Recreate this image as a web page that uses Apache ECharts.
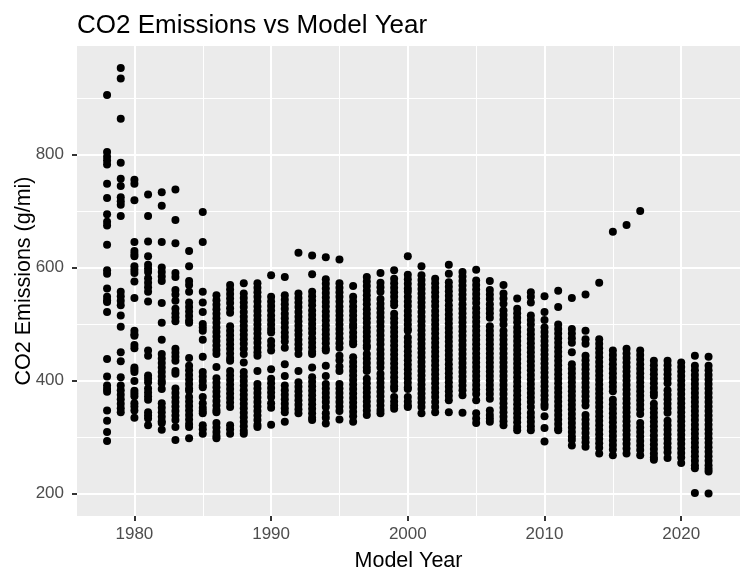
<!DOCTYPE html>
<html>
<head>
<meta charset="utf-8">
<script src="https://cdn.jsdelivr.net/npm/echarts@6.0.0/dist/echarts.min.js"></script>
<style>
html, body { margin: 0; padding: 0; background: #ffffff; }
#chart { width: 751px; height: 582px; }
</style>
</head>
<body>
<div id="chart"></div>
<script>
const chartTitle = 'CO2 Emissions vs Model Year';
const xTitle = 'Model Year';
const yTitle = 'CO2 Emissions (g/mi)';
const xTicks = [1980, 1990, 2000, 2010, 2020];
const xMinorTicks = [1985, 1995, 2005, 2015];
const yTicks = [200, 400, 600, 800];
const yMinorTicks = [300, 500, 700, 900];

const modelYears = [1978,1979,1980,1981,1982,1983,1984,1985,1986,1987,1988,1989,1990,1991,1992,1993,1994,1995,1996,1997,1998,1999,2000,2001,2002,2003,2004,2005,2006,2007,2008,2009,2010,2011,2012,2013,2014,2015,2016,2017,2018,2019,2020,2021,2022];

const co2_1978 = [905, 804, 796, 789, 782, 748, 723, 694, 681, 674, 640, 595, 589, 563, 548, 542, 539, 521, 438, 407, 391, 385, 380, 347, 329, 309, 293];
const co2_1979 = [953, 934, 863, 785, 757, 744, 724, 717, 711, 691, 557, 549, 541, 533, 515, 495, 450, 434, 406, 391, 383, 375, 367, 359, 351, 344];
const co2_1980 = [755, 748, 719, 645, 629, 624, 620, 602, 596, 590, 575, 546, 488, 482, 479, 463, 457, 423, 419, 415, 399, 382, 377, 372, 360, 354, 347, 334];
const co2_1981 = [729, 691, 646, 620, 605, 598, 592, 581, 573, 565, 557, 540, 453, 444, 409, 403, 397, 386, 379, 372, 366, 344, 338, 333, 321];
const co2_1982 = [733, 709, 645, 600, 592, 584, 576, 537, 502, 472, 447, 439, 431, 423, 415, 407, 399, 395, 385, 360, 352, 344, 336, 328, 325, 313];
const co2_1983 = [738, 684, 643, 590, 583, 560, 552, 541, 527, 519, 512, 505, 456, 449, 442, 435, 417, 412, 386, 378, 370, 362, 354, 346, 338, 330, 318, 295];
const co2_1984 = [629, 602, 576, 569, 557, 538, 530, 522, 514, 506, 502, 440, 426, 418, 410, 402, 394, 386, 382, 371, 363, 355, 347, 339, 331, 323, 318, 298];
const co2_1985 = [698, 645, 557, 538, 521, 500, 494, 488, 472, 442, 415, 407, 399, 391, 388, 371, 360, 352, 346, 342, 321, 314, 306];
const co2_1986 = [551, 542, 534, 526, 518, 510, 502, 494, 486, 478, 470, 462, 454, 447, 424, 404, 396, 388, 380, 372, 364, 356, 348, 344, 325, 317, 309, 302, 298];
const co2_1987 = [569, 561, 553, 545, 537, 528, 520, 496, 488, 480, 472, 464, 456, 448, 440, 435, 417, 409, 401, 393, 385, 377, 369, 361, 353, 321, 314, 306];
const co2_1988 = [572, 554, 546, 538, 530, 521, 513, 505, 497, 489, 481, 473, 465, 456, 447, 432, 415, 407, 399, 391, 383, 375, 367, 359, 351, 343, 335, 327, 319, 311, 306];
const co2_1989 = [572, 564, 556, 548, 540, 531, 523, 515, 507, 499, 491, 483, 475, 467, 458, 450, 444, 417, 394, 386, 378, 370, 362, 354, 346, 338, 330, 322, 318];
const co2_1990 = [586, 548, 540, 532, 524, 515, 507, 499, 491, 485, 470, 462, 453, 420, 403, 395, 387, 379, 371, 360, 352, 322];
const co2_1991 = [583, 551, 543, 535, 527, 518, 510, 502, 494, 485, 477, 469, 458, 429, 408, 391, 383, 375, 367, 359, 351, 344, 327];
const co2_1992 = [626, 554, 546, 538, 530, 521, 513, 505, 497, 489, 481, 472, 464, 456, 447, 417, 397, 389, 381, 373, 365, 357, 349, 342];
const co2_1993 = [621, 588, 557, 549, 541, 533, 524, 516, 508, 500, 492, 484, 475, 467, 459, 451, 447, 423, 406, 398, 390, 382, 374, 366, 358, 350, 342, 334, 330];
const co2_1994 = [618, 579, 571, 563, 555, 547, 539, 531, 522, 514, 506, 498, 490, 482, 474, 466, 457, 453, 426, 408, 394, 386, 378, 370, 362, 353, 342, 334, 324];
const co2_1995 = [614, 572, 564, 556, 548, 540, 531, 523, 515, 507, 499, 491, 483, 475, 466, 458, 444, 436, 425, 417, 394, 386, 378, 370, 362, 354, 346, 331];
const co2_1996 = [567, 548, 540, 531, 523, 515, 507, 499, 494, 485, 477, 469, 464, 441, 433, 425, 417, 409, 401, 393, 385, 377, 369, 361, 353, 345, 337, 327];
const co2_1997 = [583, 575, 567, 559, 551, 543, 535, 526, 518, 510, 502, 494, 486, 478, 470, 462, 458, 447, 439, 431, 423, 417, 403, 395, 387, 379, 371, 363, 355, 347, 339];
const co2_1998 = [590, 573, 565, 557, 544, 536, 528, 520, 512, 504, 496, 488, 480, 472, 464, 455, 447, 439, 431, 423, 412, 404, 396, 388, 380, 372, 364, 356, 348, 342];
const co2_1999 = [595, 580, 572, 564, 556, 548, 540, 533, 518, 510, 502, 494, 486, 478, 470, 462, 454, 446, 438, 430, 422, 414, 406, 398, 390, 385, 371, 363, 356, 350];
const co2_2000 = [620, 587, 579, 571, 563, 557, 548, 540, 532, 523, 515, 507, 499, 491, 488, 476, 468, 460, 452, 444, 436, 428, 420, 412, 404, 396, 388, 385, 371, 363, 356, 353];
const co2_2001 = [602, 586, 578, 570, 562, 554, 546, 538, 530, 521, 513, 505, 497, 489, 481, 473, 465, 457, 449, 441, 433, 425, 417, 409, 401, 393, 385, 377, 369, 361, 353, 342];
const co2_2002 = [580, 572, 564, 556, 548, 540, 532, 523, 515, 507, 499, 491, 483, 475, 467, 459, 451, 443, 435, 427, 419, 411, 403, 395, 387, 379, 371, 362, 353, 344];
const co2_2003 = [605, 589, 574, 566, 558, 550, 542, 533, 525, 517, 509, 501, 493, 485, 477, 469, 461, 453, 445, 437, 429, 421, 413, 405, 397, 389, 381, 373, 365, 344];
const co2_2004 = [592, 584, 576, 568, 560, 552, 544, 535, 527, 519, 511, 503, 495, 487, 479, 471, 463, 455, 447, 439, 431, 423, 415, 407, 399, 391, 383, 374, 343];
const co2_2005 = [596, 577, 569, 561, 553, 545, 537, 528, 520, 512, 504, 496, 488, 480, 472, 464, 456, 448, 440, 432, 424, 416, 408, 400, 392, 384, 376, 365, 342, 333, 325];
const co2_2006 = [576, 560, 552, 544, 535, 527, 519, 511, 496, 488, 480, 472, 464, 456, 448, 440, 432, 424, 416, 408, 400, 392, 384, 376, 368, 347, 339, 333, 327];
const co2_2007 = [569, 554, 545, 536, 524, 516, 508, 499, 488, 480, 472, 464, 456, 448, 440, 432, 424, 416, 408, 400, 392, 384, 376, 368, 360, 352, 344, 336, 328, 321];
const co2_2008 = [545, 527, 519, 511, 503, 494, 486, 478, 470, 462, 454, 446, 438, 430, 422, 414, 406, 398, 390, 382, 374, 366, 358, 350, 342, 334, 326, 318, 312];
const co2_2009 = [556, 548, 538, 515, 507, 499, 490, 482, 474, 466, 458, 450, 442, 434, 426, 418, 410, 402, 394, 386, 378, 370, 362, 353, 343, 335, 327, 319, 312];
const co2_2010 = [549, 521, 507, 494, 486, 478, 470, 462, 454, 446, 438, 430, 422, 414, 406, 398, 390, 382, 374, 366, 358, 353, 337, 316, 292];
const co2_2011 = [559, 530, 499, 491, 483, 475, 467, 459, 451, 443, 435, 427, 419, 411, 403, 395, 387, 379, 371, 363, 355, 347, 339, 331, 323, 315, 312];
const co2_2012 = [546, 491, 483, 475, 467, 450, 429, 421, 413, 405, 397, 389, 381, 373, 365, 357, 349, 341, 333, 325, 317, 309, 301, 295, 285];
const co2_2013 = [552, 488, 473, 465, 444, 436, 428, 420, 412, 404, 396, 388, 380, 372, 364, 356, 339, 331, 323, 315, 307, 299, 291, 283];
const co2_2014 = [573, 473, 465, 457, 449, 441, 433, 425, 417, 409, 401, 393, 385, 377, 369, 361, 353, 345, 337, 329, 321, 313, 305, 297, 289, 281, 271];
const co2_2015 = [663, 453, 445, 437, 429, 421, 413, 405, 397, 389, 381, 366, 358, 350, 342, 334, 326, 318, 310, 302, 294, 286, 278, 268];
const co2_2016 = [675, 456, 448, 440, 432, 424, 416, 408, 400, 392, 384, 376, 368, 360, 352, 344, 336, 328, 320, 312, 304, 296, 288, 280, 271];
const co2_2017 = [700, 453, 445, 437, 429, 421, 413, 405, 397, 389, 381, 373, 365, 357, 349, 341, 325, 317, 309, 301, 293, 285, 277, 268];
const co2_2018 = [435, 427, 419, 411, 403, 395, 387, 379, 373, 359, 351, 343, 335, 327, 319, 311, 303, 295, 287, 279, 271, 264, 260];
const co2_2019 = [435, 427, 419, 411, 403, 395, 383, 375, 367, 359, 351, 343, 329, 321, 313, 305, 297, 289, 281, 273, 263];
const co2_2020 = [432, 424, 416, 408, 400, 392, 384, 376, 368, 360, 352, 344, 336, 328, 320, 312, 304, 296, 288, 280, 272, 264, 254];
const co2_2021 = [444, 426, 418, 410, 402, 394, 386, 378, 370, 362, 354, 346, 338, 330, 322, 314, 306, 298, 290, 282, 274, 266, 258, 250, 245, 201];
const co2_2022 = [442, 426, 418, 410, 402, 394, 386, 378, 370, 362, 354, 346, 338, 330, 322, 314, 306, 298, 290, 282, 274, 266, 258, 250, 244, 239, 200];

const yearColumns = [co2_1978, co2_1979, co2_1980, co2_1981, co2_1982, co2_1983, co2_1984, co2_1985, co2_1986, co2_1987, co2_1988, co2_1989, co2_1990, co2_1991, co2_1992, co2_1993, co2_1994, co2_1995, co2_1996, co2_1997, co2_1998, co2_1999, co2_2000, co2_2001, co2_2002, co2_2003, co2_2004, co2_2005, co2_2006, co2_2007, co2_2008, co2_2009, co2_2010, co2_2011, co2_2012, co2_2013, co2_2014, co2_2015, co2_2016, co2_2017, co2_2018, co2_2019, co2_2020, co2_2021, co2_2022];

const points = [];
modelYears.forEach(function (yr, i) {
  yearColumns[i].forEach(function (v) { points.push([yr, v]); });
});

const FONT = '"Liberation Sans", Arial, "DejaVu Sans", sans-serif';

const gridLines = [];
xTicks.forEach(function (v) { gridLines.push({ xAxis: v, lineStyle: { width: 2 } }); });
xMinorTicks.forEach(function (v) { gridLines.push({ xAxis: v, lineStyle: { width: 1 } }); });
yTicks.forEach(function (v) { gridLines.push({ yAxis: v, lineStyle: { width: 2 } }); });
yMinorTicks.forEach(function (v) { gridLines.push({ yAxis: v, lineStyle: { width: 1 } }); });

const chart = echarts.init(document.getElementById('chart'), null, { renderer: 'canvas' });
chart.setOption({
  animation: false,
  backgroundColor: '#ffffff',
  title: {
    text: chartTitle,
    left: 72,
    top: 8,
    textStyle: { fontFamily: FONT, fontSize: 26, fontWeight: 'normal', color: '#000000' }
  },
  grid: {
    left: 77, right: 11, top: 46, bottom: 66,
    show: true, backgroundColor: '#EBEBEB', borderWidth: 0,
    containLabel: false,
    outerBoundsMode: 'none'
  },
  xAxis: {
    type: 'value',
    min: 1975.8,
    max: 2024.3,
    name: xTitle,
    nameLocation: 'middle',
    nameGap: 34,
    nameMoveOverlap: false,
    nameTextStyle: { fontFamily: FONT, fontSize: 21.5, color: '#000000' },
    axisLine: { show: false },
    splitLine: { show: false },
    axisTick: { show: true, length: 5, lineStyle: { color: '#333333', width: 2 }, customValues: xTicks },
    axisLabel: {
      customValues: xTicks, color: '#4D4D4D', fontSize: 17, fontFamily: FONT, margin: 10,
      formatter: function (v) { return String(Math.round(v)); }
    }
  },
  yAxis: {
    type: 'value',
    min: 160.4,
    max: 991.7,
    name: yTitle,
    nameLocation: 'middle',
    nameGap: 42,
    nameMoveOverlap: false,
    nameTextStyle: { fontFamily: FONT, fontSize: 21.5, color: '#000000' },
    axisLine: { show: false },
    splitLine: { show: false },
    axisTick: { show: true, length: 5, lineStyle: { color: '#333333', width: 2 }, customValues: yTicks },
    axisLabel: {
      customValues: yTicks, color: '#4D4D4D', fontSize: 17, fontFamily: FONT, margin: 13,
      formatter: function (v) { return String(Math.round(v)); }
    }
  },
  series: [
    {
      type: 'scatter',
      data: [],
      z: 1,
      silent: true,
      markLine: {
        z: 1,
        silent: true,
        symbol: ['none', 'none'],
        label: { show: false },
        lineStyle: { color: '#ffffff', type: 'solid', opacity: 1 },
        emphasis: { disabled: true },
        animation: false,
        data: gridLines
      }
    },
    {
      type: 'scatter',
      data: points,
      z: 10,
      symbol: 'circle',
      symbolSize: 8,
      itemStyle: { color: '#000000', opacity: 1 },
      emphasis: { disabled: true },
      silent: true
    }
  ]
});
</script>
</body>
</html>
